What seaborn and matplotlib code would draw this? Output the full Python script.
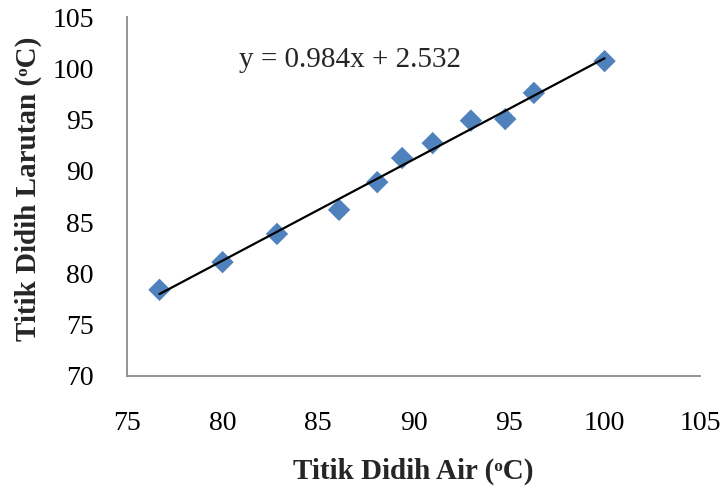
import numpy as np
import pandas as pd
import matplotlib
matplotlib.use("Agg")
import matplotlib.pyplot as plt
import seaborn as sns

# Data
titik_didih_air = [76.7, 80.0, 82.85, 86.1, 88.1, 89.4, 91.0, 93.0, 94.8, 96.3, 100.0]
titik_didih_larutan = [78.4, 81.1, 83.85, 86.2, 88.9, 91.25, 92.7, 94.9, 95.05, 97.6, 100.7]
x_ticks = [75, 80, 85, 90, 95, 100, 105]
y_ticks = [70, 75, 80, 85, 90, 95, 100, 105]
equation_text = "y = 0.984x + 2.532"

sns.set_theme(style="white")
plt.rcParams['font.family'] = ['Liberation Serif', 'DejaVu Serif']

df = pd.DataFrame({"x": titik_didih_air, "y": titik_didih_larutan})

fig = plt.figure(figsize=(7.27, 4.92), dpi=100)
ax = fig.add_axes([0.1747, 0.2358, 0.963 - 0.1747, 0.9654 - 0.2358])

sns.regplot(data=df, x="x", y="y", ax=ax, ci=None, truncate=True,
            scatter=False, line_kws=dict(color="black", lw=1.6, zorder=3))
sns.scatterplot(data=df, x="x", y="y", ax=ax, marker="D", s=130,
                color="#4F81BD", edgecolor="none", zorder=2)

ax.set_xlim(75, 105)
ax.set_ylim(70, 105)
ax.set_xticks(x_ticks)
ax.set_yticks(y_ticks)
ax.tick_params(axis="both", labelsize=20, length=0, colors="black")
ax.tick_params(axis="x", pad=25)
ax.tick_params(axis="y", pad=24)

for s in ["top", "right"]:
    ax.spines[s].set_visible(False)
for s in ["left", "bottom"]:
    ax.spines[s].set_color("#8c8c8c")
    ax.spines[s].set_linewidth(1.3)

ax.set_xlabel("Titik Didih Air (\u1d52C)", fontsize=21, fontweight="bold")
ax.set_ylabel("Titik Didih Larutan (\u1d52C)", fontsize=21, fontweight="bold")
ax.xaxis.label.set_va("center")
ax.yaxis.label.set_va("center")
ax.xaxis.set_label_coords(0.499, -0.267)
ax.yaxis.set_label_coords(-0.173, 0.521)
ax.text(86.67, 100.8, equation_text, fontsize=21, ha="center", va="center")

fig.savefig("out.png", dpi=100)
